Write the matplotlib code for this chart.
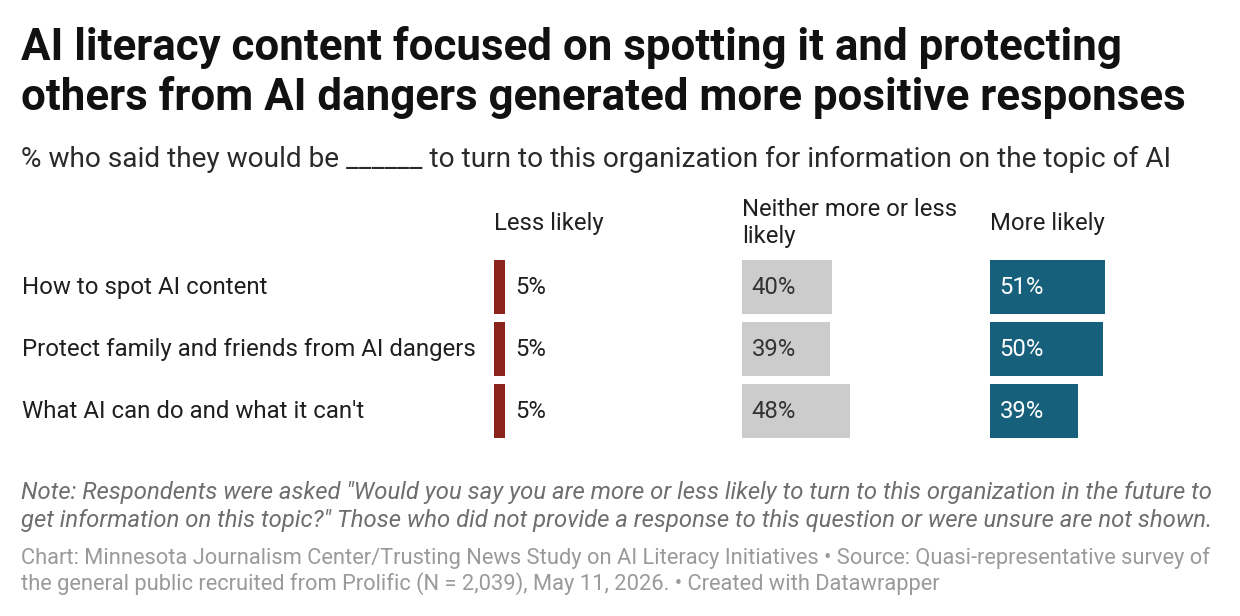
import matplotlib
matplotlib.use("Agg")
import matplotlib.pyplot as plt

categories = ["How to spot AI content",
              "Protect family and friends from AI dangers",
              "What AI can do and what it can't"]
less_likely = [5, 5, 5]
neither = [40, 39, 48]
more_likely = [51, 50, 39]
columns = ["Less likely", "Neither more or less\nlikely", "More likely"]

W, H = 1240, 616
fig = plt.figure(figsize=(W / 100, H / 100), dpi=100)
fig.patch.set_facecolor("white")
plt.rcParams['font.family'] = ['Roboto', 'DejaVu Sans']

def fx(x):
    return x / W

def fy(y):
    return 1 - y / H

dark = "#1f1f1f"
fig.text(fx(21), fy(60), "AI literacy content focused on spotting it and protecting",
         fontsize=31.6, fontweight="bold", color="#111111", va="baseline", ha="left")
fig.text(fx(21), fy(110), "others from AI dangers generated more positive responses",
         fontsize=31.6, fontweight="bold", color="#111111", va="baseline", ha="left")
fig.text(fx(21), fy(167), "% who said they would be ______ to turn to this organization for information on the topic of AI",
         fontsize=20.15, color="#2a2a2a", va="baseline", ha="left")

col_left = [494, 742, 990]
colors = ["#8b241d", "#cccccc", "#17607b"]
label_colors = [dark, "#333333", "white"]
series = [less_likely, neither, more_likely]
px_per_pct = 2.26
ax_w = 240
top, bottom = 256, 442

# column headers (baselines)
fig.text(fx(col_left[0]), fy(230), columns[0], fontsize=17.2, color=dark,
         va="baseline", ha="left")
for k, line in enumerate(columns[1].split("\n")):
    fig.text(fx(col_left[1]), fy(216 + 27 * k), line, fontsize=17.2, color=dark,
             va="baseline", ha="left")
fig.text(fx(col_left[2]), fy(230), columns[2], fontsize=17.2, color=dark,
         va="baseline", ha="left")

for i in range(3):
    ax = fig.add_axes([fx(col_left[i]), fy(bottom), ax_w / W, (bottom - top) / H])
    ax.set_xlim(0, ax_w / px_per_pct)
    ax.set_ylim(len(categories) - 0.5, -0.5)
    ax.axis("off")
    ypos = list(range(len(categories)))
    ax.barh(ypos, series[i], height=54 / 62, color=colors[i], left=0,
            linewidth=0)
    for j, v in enumerate(series[i]):
        yb = j + 7 / 62
        if v < 10:
            ax.text(v + 10 / px_per_pct, yb, f"{v}%", fontsize=17.2, color=dark,
                    va="baseline", ha="left")
        else:
            ax.text(9.5 / px_per_pct, yb, f"{v}%", fontsize=17.2, color=label_colors[i],
                    va="baseline", ha="left")

row_base = [294, 356, 418]
for lab, y in zip(categories, row_base):
    fig.text(fx(22), fy(y), lab, fontsize=17.3, color=dark, va="baseline", ha="left")

note_lines = ["Note: Respondents were asked \"Would you say you are more or less likely to turn to this organization in the future to",
              "get information on this topic?\" Those who did not provide a response to this question or were unsure are not shown."]
for line, y in zip(note_lines, [499, 527]):
    fig.text(fx(21), fy(y), line, fontsize=17.2, style="italic", color="#6e6e6e",
             va="baseline", ha="left")

footer_lines = ["Chart: Minnesota Journalism Center/Trusting News Study on AI Literacy Initiatives \u2022 Source: Quasi-representative survey of",
                "the general public recruited from Prolific (N = 2,039), May 11, 2026. \u2022 Created with Datawrapper"]
for line, y in zip(footer_lines, [564, 590]):
    fig.text(fx(21), fy(y), line, fontsize=15.75, color="#9a9a9a",
             va="baseline", ha="left")

fig.savefig("out.png", dpi=100, facecolor="white")
